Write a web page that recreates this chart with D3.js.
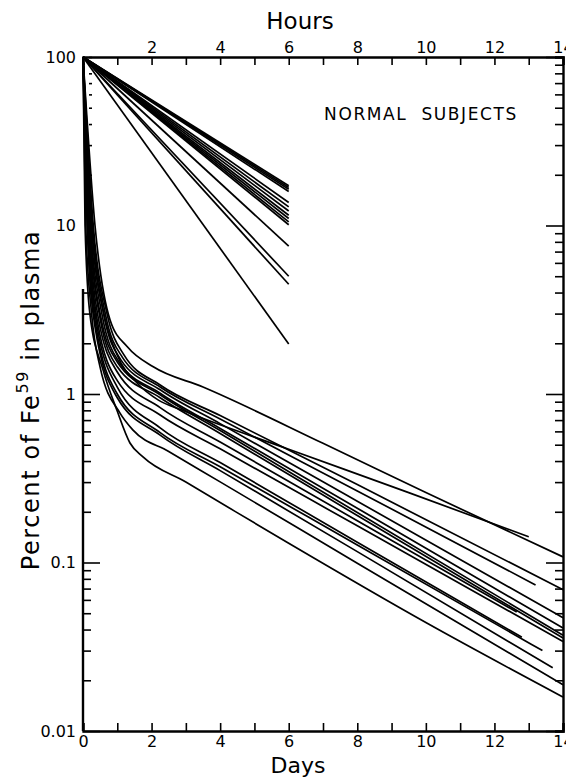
<!DOCTYPE html>
<html lang="en">
<head>
<meta charset="UTF-8">
<title>Fe59 plasma clearance - normal subjects</title>
<script src="https://d3js.org/d3.v7.min.js"></script>
<style>
  body { margin: 0; background: #fff; }
  text { font-family: "DejaVu Sans", sans-serif; fill: #000; }
</style>
</head>
<body>
<svg id="chart" width="566" height="778"></svg>
<script>
// tick labels
const dayTicks = d3.range(0, 15);
const dayLabels = [0, 2, 4, 6, 8, 10, 12, 14];
const hourLabels = [2, 4, 6, 8, 10, 12, 14];
const yLabels = [100, 10, 1, 0.1, 0.01];

// fast component, plotted against hours (top axis): value at 6 h, start is 100 %
const hourEnd = 6;
const hourValues = [17.2, 16.8, 16.4, 15.9, 13.7, 12.9, 12.2, 11.5, 11.0, 10.5, 10.1, 7.55, 5.0, 4.48, 1.98];

// whole curves against days (bottom axis): [day, percent]
const curveA = [[0,100],[0.35,10],[0.79,2.75],[1.3,1.9],[2.05,1.45],[3.5,1.1],[7,0.51],[10,0.26],[14,0.108]];
const curveB = [[0,100],[0.25,10],[0.58,3.2],[1.0,1.7],[1.6,1.15],[2.2,0.92],[2.9,0.8],[6,0.47],[9.5,0.26],[13,0.142]];
const curveC = [[0,100],[0.3,10],[0.7,3.0],[1.2,1.7],[2.25,1.13],[4,0.745],[8,0.29],[14,0.069]];
const curveD = [[0,100],[0.28,10],[0.65,3.0],[1.15,1.65],[2.25,1.10],[4,0.71],[8,0.266],[13.2,0.0736]];
const curveE = [[0,100],[0.25,10],[0.6,3.0],[1.1,1.6],[2.25,1.06],[4,0.667],[8,0.231],[14,0.047]];
const curveF = [[0,100],[0.22,10],[0.55,3.0],[1.05,1.55],[2.25,1.01],[4,0.625],[8,0.21],[14,0.0408]];
const curveG = [[0,100],[0.2,10],[0.5,3.0],[1.0,1.55],[2.25,0.99],[4,0.607],[8,0.198],[14,0.037]];
const curveH = [[0,100],[0.2,10],[0.5,2.8],[1.0,1.45],[2.25,0.95],[4,0.583],[8,0.19],[14,0.0356]];
const curveI = [[0,100],[0.18,10],[0.45,2.8],[1.0,1.35],[2.25,0.83],[4,0.519],[8,0.177],[12.65,0.0508]];
const curveJ = [[0,100],[0.16,10],[0.42,2.7],[1.0,1.2],[2.25,0.75],[4,0.473],[8,0.165],[14,0.034]];
const curveK1 = [[0,100],[0.15,10],[0.4,2.6],[1.0,1.1],[2.25,0.63],[4,0.392],[8,0.132],[12.8,0.036]];
const curveK2 = [[0,100],[0.13,10],[0.38,2.5],[1.0,1.0],[2.25,0.59],[4,0.37],[8,0.127],[13.4,0.03]];
const curveM = [[0,100],[0.12,10],[0.35,2.5],[1.0,0.95],[2.25,0.57],[4,0.351],[8,0.116],[13.7,0.0237]];
const curveK = [[0,100],[0.08,10],[0.25,3.0],[0.5,1.44],[1.08,0.77],[1.46,0.61],[2.5,0.456],[4,0.301],[8,0.099],[14,0.0188]];
const curveL = [[0,100],[0.06,10],[0.2,3.0],[0.58,1.4],[0.99,0.8],[1.37,0.512],[1.75,0.423],[3,0.3],[6,0.13],[10,0.044],[14,0.0159]];
const dayCurves = [curveA, curveB, curveC, curveD, curveE, curveF, curveG, curveH,
                   curveI, curveJ, curveK1, curveK2, curveM, curveK, curveL];

const svg = d3.select("#chart");
const mLeft = 83, mRight = 563, mTop = 57, mBottom = 731;

const x = d3.scaleLinear().domain([0, 14]).range([mLeft, mRight]);
const y = d3.scaleLog().domain([0.01, 100]).range([mBottom, mTop]);

// log ticks 1..9 per decade
const minorVals = [];
[0.01, 0.1, 1, 10].forEach(d => { for (let k = 1; k < 10; k++) minorVals.push(+(d * k).toPrecision(3)); });
minorVals.push(100);
const isMajor = v => yLabels.includes(v);

// bottom axis (days)
const xb = svg.append("g").attr("transform", `translate(0,${mBottom})`)
  .call(d3.axisBottom(x).tickValues(dayTicks).tickSize(-8).tickPadding(5)
    .tickFormat(d => dayLabels.includes(d) ? d : ""));
// top axis (hours)
const xt = svg.append("g").attr("transform", `translate(0,${mTop})`)
  .call(d3.axisTop(x).tickValues(dayTicks).tickSize(-8).tickPadding(4)
    .tickFormat(d => hourLabels.includes(d) ? d : ""));
// right axis
const yr = svg.append("g").attr("transform", `translate(${mRight},0)`)
  .call(d3.axisRight(y).tickValues(minorVals).tickFormat("").tickSize(-8));
yr.selectAll(".tick line").attr("x2", d => isMajor(d) ? -17 : -8);
// left axis, spine only below the steep part
const yl = svg.append("g").attr("transform", `translate(${mLeft},0)`)
  .call(d3.axisLeft(y).tickValues(minorVals).tickSize(-8).tickPadding(7)
    .tickFormat(d => isMajor(d) ? d3.format("~g")(d) : ""));
yl.selectAll(".tick line")
  .attr("x1", d => d > 4 ? 6 : 0)
  .attr("x2", d => d > 4 ? 9 : (isMajor(d) ? 17 : 8));
yl.select(".domain").remove();
yl.append("line").attr("x1", 0).attr("x2", 0).attr("y1", y(4.2)).attr("y2", mBottom)
  .attr("stroke", "#000").attr("stroke-width", 2.4);

[xb, xt, yr, yl].forEach(g => {
  g.selectAll("path.domain").attr("stroke-width", 2.4);
  g.selectAll(".tick line").attr("stroke-width", 1.6);
  g.selectAll(".tick text").style("font-size", "16px").style("font-family", "'DejaVu Sans', sans-serif");
});

// curves
const line = d3.line().x(d => x(d[0])).y(d => y(d[1])).curve(d3.curveMonotoneX);
svg.append("g").selectAll("path").data(dayCurves).join("path")
  .attr("d", line).attr("fill", "none").attr("stroke", "#000").attr("stroke-width", 1.7);

const straight = d3.line().x(d => x(d[0])).y(d => y(d[1]));
svg.append("g").selectAll("path").data(hourValues).join("path")
  .attr("d", v => straight([[0, 100], [hourEnd, v]]))
  .attr("fill", "none").attr("stroke", "#000").attr("stroke-width", 1.7);

// titles
svg.append("text").attr("x", 300).attr("y", 29).attr("text-anchor", "middle")
  .style("font-size", "23px").text("Hours");
svg.append("text").attr("x", 298).attr("y", 773).attr("text-anchor", "middle")
  .style("font-size", "22px").text("Days");
svg.append("text").attr("x", 421).attr("y", 120).attr("text-anchor", "middle")
  .attr("xml:space", "preserve")
  .style("font-size", "17px").style("letter-spacing", "1.6px").text("NORMAL  SUBJECTS");

const yt = svg.append("text").attr("transform", "translate(39,400) rotate(-90)")
  .attr("text-anchor", "middle").style("font-size", "24px").style("letter-spacing", "1.6px");
yt.append("tspan").text("Percent of Fe");
yt.append("tspan").attr("dy", -11).style("font-size", "16px").text("59");
yt.append("tspan").attr("dy", 11).text(" in plasma");
</script>
</body>
</html>
